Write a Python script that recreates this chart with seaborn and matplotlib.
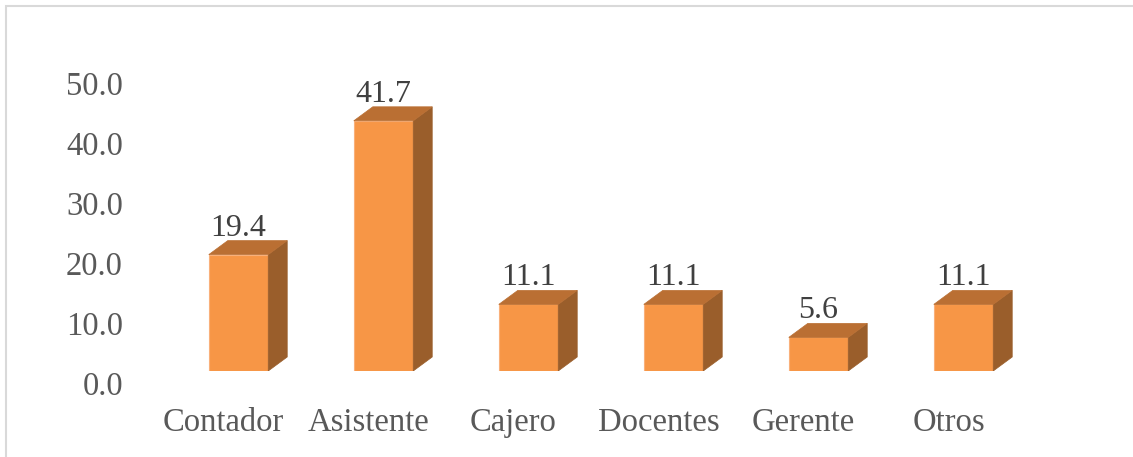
import matplotlib
matplotlib.use("Agg")
import matplotlib.pyplot as plt
import matplotlib.transforms as mtransforms
from matplotlib.patches import Polygon, Rectangle
import seaborn as sns
import pandas as pd

# datos
categorias = ["Contador", "Asistente", "Cajero", "Docentes", "Gerente", "Otros"]
porcentajes = [19.4, 41.7, 11.1, 11.1, 5.6, 11.1]
y_ticks = [0, 10, 20, 30, 40, 50]

FRENTE = "#F79646"
TECHO = "#BA6F33"
LADO = "#9A5E2B"
GRIS_TXT = "#595959"

sns.set_theme(style="white")
plt.rcParams["font.family"] = ["Liberation Serif", "DejaVu Serif"]

W, H = 1133, 457
fig = plt.figure(figsize=(W / 100, H / 100), dpi=100)
ax = fig.add_axes([166 / W, 86 / H, 870 / W, 300 / H])

df = pd.DataFrame({"cargo": categorias, "pct": porcentajes})
sns.barplot(data=df, x="cargo", y="pct", color=FRENTE, width=0.41, saturation=1,
            edgecolor="#F9B07A", linewidth=0.8, ax=ax)

ax.set_xlim(-0.5, 5.5)
ax.set_ylim(0, 50)
ax.set_xlabel("")
ax.set_ylabel("")

# profundidad 3D en unidades de datos (19 px a la derecha, 14 px arriba)
dx = 19 * 6 / 870
dy = 14 * 50 / 300

for p, val in zip(ax.patches, porcentajes):
    x0, w, h = p.get_x(), p.get_width(), p.get_height()
    lado = Polygon([(x0 + w, 0), (x0 + w + dx, dy), (x0 + w + dx, h + dy), (x0 + w, h)],
                   closed=True, facecolor=LADO, edgecolor=LADO, lw=0.5)
    techo = Polygon([(x0, h), (x0 + w, h), (x0 + w + dx, h + dy), (x0 + dx, h + dy)],
                    closed=True, facecolor=TECHO, edgecolor=TECHO, lw=0.5)
    ax.add_patch(lado)
    ax.add_patch(techo)
    ax.annotate(f"{val:.1f}", (x0 + w / 2, h), xytext=(0, 13.7), textcoords="offset points",
                ha="center", va="baseline", fontsize=23, color="#404040")

ax.set_yticks(y_ticks)
ax.set_yticklabels([f"{v:.1f}" for v in y_ticks])
ax.tick_params(axis="both", length=0, labelsize=23.5, labelcolor=GRIS_TXT)
ax.tick_params(axis="y", pad=31)
ax.tick_params(axis="x", pad=26)

off_y = mtransforms.ScaledTranslation(0, -12 / 100, fig.dpi_scale_trans)
for lbl in ax.get_yticklabels():
    lbl.set_transform(lbl.get_transform() + off_y)
off_x = mtransforms.ScaledTranslation(-15 / 100, 0, fig.dpi_scale_trans)
for lbl in ax.get_xticklabels():
    lbl.set_transform(lbl.get_transform() + off_x)

for s in ax.spines.values():
    s.set_visible(False)

fig.add_artist(Rectangle((6 / W, -0.1), 2, (H - 6) / H + 0.1, transform=fig.transFigure,
                         fill=False, edgecolor="#D9D9D9", lw=1.5))

fig.savefig("out.png", dpi=100)
